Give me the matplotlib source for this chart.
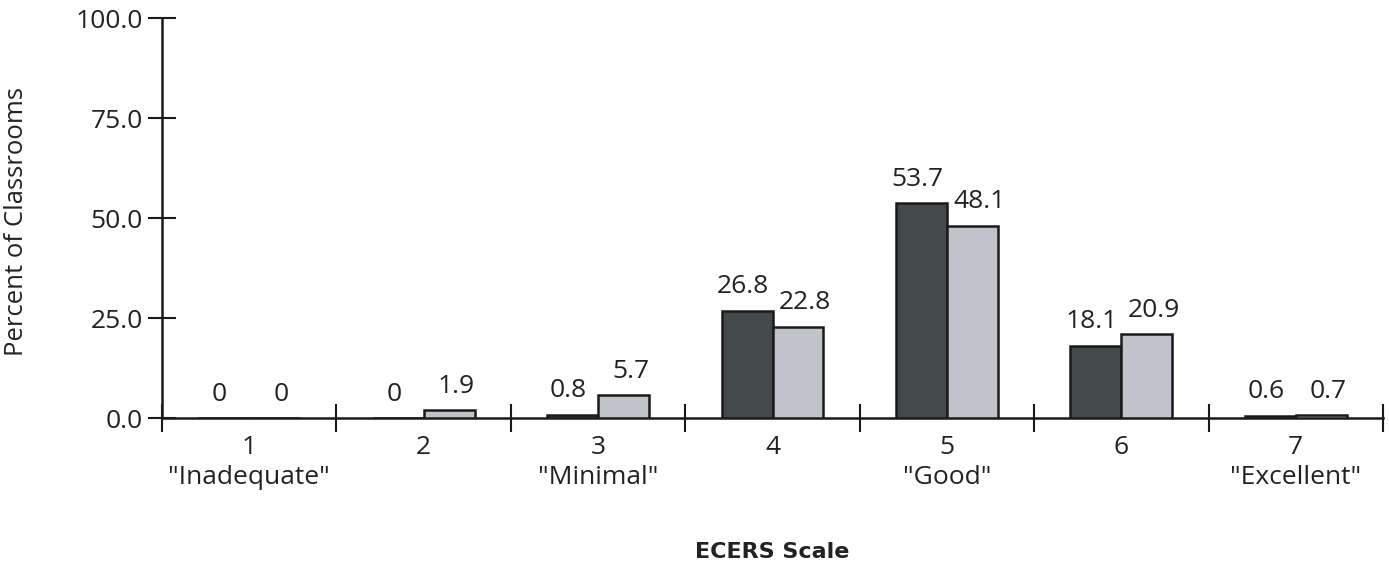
import matplotlib
matplotlib.use("Agg")
import matplotlib.pyplot as plt
import numpy as np
from matplotlib.ticker import FixedLocator, FuncFormatter

categories = ['1\n"Inadequate"', '2', '3\n"Minimal"', '4', '5\n"Good"', '6', '7\n"Excellent"']
series_a = [0, 0, 0.8, 26.8, 53.7, 18.1, 0.6]
series_b = [0, 1.9, 5.7, 22.8, 48.1, 20.9, 0.7]
label_a = ["0", "0", "0.8", "26.8", "53.7", "18.1", "0.6"]
label_b = ["0", "1.9", "5.7", "22.8", "48.1", "20.9", "0.7"]
yticks = [0, 25, 50, 75, 100]

plt.rcParams['font.family'] = ['Open Sans', 'DejaVu Sans']
fig = plt.figure(figsize=(13.89, 5.70), dpi=100)
ax = fig.add_axes([162/1389, (570-418)/570, (1383-162)/1389, 400/570])

x = np.arange(1, len(categories) + 1)
w = 0.292
ax.bar(x - w/2, series_a, width=w, color='#434a4c', edgecolor='#1a1a1a', linewidth=1.8, zorder=3)
ax.bar(x + w/2, series_b, width=w, color='#c0c4ca', edgecolor='#1a1a1a', linewidth=1.8, zorder=3)

fs = 19
tc = '#222222'
for xi, v, t in zip(x - w/2, series_a, label_a):
    ax.annotate(t, (xi, v), xytext=(-3, 12.5), textcoords='offset points', ha='center', va='baseline', fontsize=fs, color=tc)
for xi, v, t in zip(x + w/2, series_b, label_b):
    ax.annotate(t, (xi, v), xytext=(5, 12.5), textcoords='offset points', ha='center', va='baseline', fontsize=fs, color=tc)

ax.set_xlim(0.5, 7.5)
ax.set_ylim(0, 100)
ax.spines['top'].set_visible(False)
ax.spines['right'].set_visible(False)
for s in ['left', 'bottom']:
    ax.spines[s].set_linewidth(1.8)
    ax.spines[s].set_color('#1a1a1a')

ax.xaxis.set_major_locator(FixedLocator(np.arange(0.5, 7.6, 1.0)))
ax.xaxis.set_major_formatter(FuncFormatter(lambda v, p: ''))
ax.xaxis.set_minor_locator(FixedLocator(x))
ax.set_xticklabels(categories, minor=True)
ax.tick_params(axis='x', which='major', direction='inout', length=20, width=1.5, color='#1a1a1a')
ax.tick_params(axis='x', which='minor', length=0, pad=12, labelsize=fs, labelcolor=tc)
for lbl in ax.get_xticklabels(minor=True):
    lbl.set_linespacing(1.3)

ax.set_yticks(yticks)
ax.yaxis.set_major_formatter(FuncFormatter(lambda v, p: f"{v:.1f}"))
ax.tick_params(axis='y', direction='inout', length=20, width=1.5, color='#1a1a1a', labelsize=fs, labelcolor=tc, pad=4)

fig.text(772/1389, 1 - 552/570, 'ECERS Scale', ha='center', va='center', fontsize=16, fontweight='bold', color=tc, family='DejaVu Sans')
fig.text(17/1389, 1 - 222/570, 'Percent of Classrooms', ha='center', va='center', rotation=90, fontsize=18.5, color=tc)

fig.savefig('out.png', dpi=100)
